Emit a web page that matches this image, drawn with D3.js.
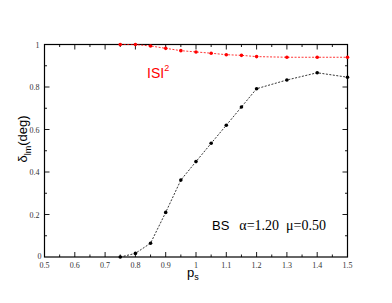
<!DOCTYPE html>
<html>
<head>
<script src="https://d3js.org/d3.v7.min.js"></script>
<style>
  body { margin: 0; background: #fff; }
</style>
</head>
<body>
<div id="chart"></div>
<script>
  // values
  let ps = [0.75, 0.8, 0.85, 0.9, 0.95, 1.0, 1.05, 1.1, 1.15, 1.2, 1.3, 1.4, 1.5];
  let deltaBS = [0.0, 0.017, 0.065, 0.21, 0.362, 0.449, 0.535, 0.62, 0.706, 0.792, 0.833, 0.867, 0.846];
  let isi2 = [1.0, 1.0, 0.993, 0.982, 0.971, 0.965, 0.959, 0.952, 0.949, 0.943, 0.94, 0.94, 0.94];
  let xTicks = [0.5, 0.6, 0.7, 0.8, 0.9, 1, 1.1, 1.2, 1.3, 1.4, 1.5];
  let yTicks = [0.2, 0.4, 0.6, 0.8, 1];

  let width = 392, height = 303;
  let svg = d3.select('#chart').append('svg')
    .attr('width', width)
    .attr('height', height);

  let x = d3.scaleLinear().domain([0.5, 1.5]).range([44.5, 347.5]);
  let y = d3.scaleLinear().domain([0, 1]).range([257, 44.5]);

  // frame
  svg.append('rect')
    .attr('x', x(0.5)).attr('y', y(1))
    .attr('width', x(1.5) - x(0.5)).attr('height', y(0) - y(1))
    .attr('fill', 'none').attr('stroke', '#000').attr('stroke-width', 1.2);

  // inward ticks on all four sides
  let xMinor = d3.range(0.55, 1.5, 0.1);
  let yMinor = d3.range(0.1, 1.0, 0.2);
  function tickSet(vals, len, isX) {
    vals.forEach(v => {
      if (isX) {
        svg.append('line').attr('x1', x(v)).attr('x2', x(v)).attr('y1', y(0)).attr('y2', y(0) - len)
          .attr('stroke', '#000').attr('stroke-width', 0.9);
        svg.append('line').attr('x1', x(v)).attr('x2', x(v)).attr('y1', y(1)).attr('y2', y(1) + len)
          .attr('stroke', '#000').attr('stroke-width', 0.9);
      } else {
        svg.append('line').attr('x1', x(0.5)).attr('x2', x(0.5) + len).attr('y1', y(v)).attr('y2', y(v))
          .attr('stroke', '#000').attr('stroke-width', 0.9);
        svg.append('line').attr('x1', x(1.5)).attr('x2', x(1.5) - len).attr('y1', y(v)).attr('y2', y(v))
          .attr('stroke', '#000').attr('stroke-width', 0.9);
      }
    });
  }
  tickSet(xTicks, 5, true);
  tickSet(xMinor, 2.5, true);
  tickSet(yTicks, 5, false);
  tickSet(yMinor, 2.5, false);

  // tick labels
  let tickFont = '"Liberation Serif", "DejaVu Serif", serif';
  svg.selectAll('.xl').data(xTicks).enter().append('text')
    .attr('x', d => x(d)).attr('y', y(0) + 11)
    .attr('text-anchor', 'middle')
    .attr('font-family', tickFont).attr('font-size', 8).attr('fill', '#333')
    .text(d => d3.format('')(d));
  svg.selectAll('.yl').data(yTicks).enter().append('text')
    .attr('x', x(0.5) - 5).attr('y', d => y(d) + 3)
    .attr('text-anchor', 'end')
    .attr('font-family', tickFont).attr('font-size', 8).attr('fill', '#333')
    .text(d => d3.format('')(d));
  svg.append('text')
    .attr('x', x(0.5) - 3).attr('y', y(0) + 2)
    .attr('text-anchor', 'end')
    .attr('font-family', tickFont).attr('font-size', 8).attr('fill', '#333')
    .text('0');

  // series
  let line = d3.line().x(d => x(d[0])).y(d => y(d[1]));
  function series(vals, color) {
    let pts = ps.map((p, i) => [p, vals[i]]);
    svg.append('path').datum(pts)
      .attr('d', line)
      .attr('fill', 'none').attr('stroke', color)
      .attr('stroke-width', 0.8).attr('stroke-dasharray', '2,1.5');
    svg.selectAll(null).data(pts).enter().append('circle')
      .attr('cx', d => x(d[0])).attr('cy', d => y(d[1]))
      .attr('r', 1.8).attr('fill', color);
  }
  series(isi2, '#ff0000');
  series(deltaBS, '#000');

  let sans = '"Liberation Sans", Arial, sans-serif';
  let serif = '"Liberation Serif", "Times New Roman", serif';

  // axis labels
  svg.append('text')
    .attr('transform', 'translate(27,139) rotate(-90)')
    .attr('text-anchor', 'middle')
    .attr('font-family', sans).attr('font-size', 13)
    .html('δ<tspan font-size="9" dy="4">lm</tspan><tspan dy="-4">(deg)</tspan>');
  svg.append('text')
    .attr('x', 187).attr('y', 277)
    .attr('font-family', sans).attr('font-size', 13)
    .html('p<tspan font-size="9" dy="3">s</tspan>');

  // annotations
  svg.append('text')
    .attr('x', 147).attr('y', 78)
    .attr('font-family', sans).attr('font-size', 14).attr('fill', '#ff0000')
    .html('ISI<tspan font-size="9" dy="-7">2</tspan>');
  svg.append('text')
    .attr('x', 212).attr('y', 230)
    .attr('font-family', sans).attr('font-size', 13)
    .html('BS<tspan font-family=\'' + serif + '\' font-size="14" dx="10">α=1.20</tspan>' +
          '<tspan font-family=\'' + serif + '\' font-size="14" dx="7">μ=0.50</tspan>');
</script>
</body>
</html>
